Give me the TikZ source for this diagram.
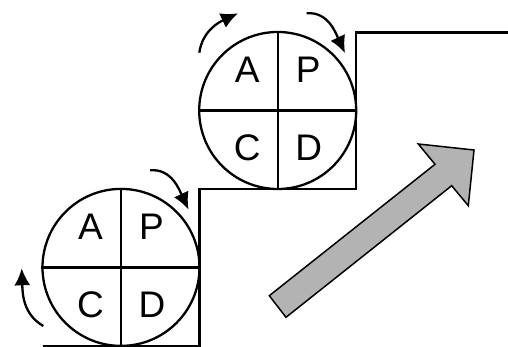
\documentclass[tikz,border=0pt]{standalone}
\usepackage{fontspec}
\setmainfont{Liberation Sans}
\usetikzlibrary{arrows.meta}
\definecolor{arrowgray}{RGB}{179,179,179}
\begin{document}
\begin{tikzpicture}[x=1pt,y=1pt,
  line/.style={line width=2.3pt},
  pdca/.style={circle,draw,line width=2.3pt,minimum size=157pt,inner sep=0pt},
  letter/.style={font=\fontsize{37}{37}\selectfont,anchor=base,inner sep=0pt},
  cyc/.style={line width=2.3pt,-{Latex[length=17pt,width=16pt]}},
  bigarrow/.style={draw=black,line width=1.5pt,fill=arrowgray,line join=miter}]
\useasboundingbox (0,0) rectangle (508,347);
% staircase
\coordinate (s0) at (42.5,1.2);
\coordinate (s1) at (199.5,1.2);
\coordinate (s2) at (199.5,158);
\coordinate (s3) at (356,158);
\coordinate (s4) at (356,314.5);
\coordinate (s5) at (508,314.5);
\draw[line,line join=miter] (s0) -- (s1) -- (s2) -- (s3) -- (s4) -- (s5);
% circles
\node[pdca] (low) at (121,79.6) {};
\node[pdca] (up) at (277.7,236.5) {};
\draw[line] (low.north) -- (low.south);
\draw[line] (low.west) -- (low.east);
\draw[line] (up.north) -- (up.south);
\draw[line] (up.west) -- (up.east);
% letters
\node[letter] (lA) at ([shift={(-30.5,27.5)}]low.center) {A};
\node[letter] (lP) at ([shift={(30.5,27.5)}]low.center) {P};
\node[letter] (lC) at ([shift={(-30.5,-50.5)}]low.center) {C};
\node[letter] (lD) at ([shift={(31,-50.5)}]low.center) {D};
\node[letter] (uA) at ([shift={(-30.5,27.5)}]up.center) {A};
\node[letter] (uP) at ([shift={(30.5,27.5)}]up.center) {P};
\node[letter] (uC) at ([shift={(-30.5,-50.5)}]up.center) {C};
\node[letter] (uD) at ([shift={(31,-50.5)}]up.center) {D};
% cycle arrows
\coordinate (ula) at (199.3,294.3);
\coordinate (ulb) at (238,333.7);
\coordinate (ura) at (306.7,333.7);
\coordinate (urb) at (345,294);
\coordinate (lma) at (150.2,176.7);
\coordinate (lmb) at (188.5,137.5);
\coordinate (lla) at (43.3,21);
\coordinate (llb) at (21.7,78.7);
\draw[cyc] (ula) to[out=82,in=205] (ulb);
\draw[cyc] (ura) to[out=5,in=115] (urb);
\draw[cyc] (lma) to[out=5,in=115] (lmb);
\draw[cyc] (lla) to[out=150,in=272] (llb);
% big arrow
\draw[bigarrow] (269.3,51.3) -- (435,182.7) -- (418.3,203) -- (474,197)
  -- (468.3,141.3) -- (451.7,161.3) -- (286,29.7) -- cycle;
\end{tikzpicture}
\end{document}
